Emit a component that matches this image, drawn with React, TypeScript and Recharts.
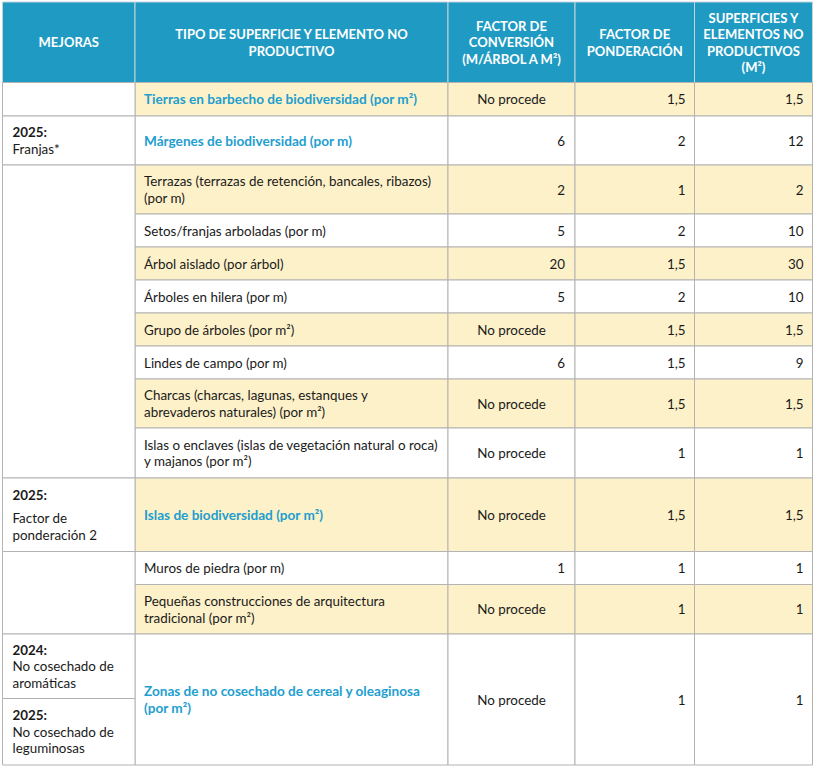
import React from 'react';
import { ComposedChart, XAxis, YAxis, ReferenceArea } from 'recharts';

// ---------- DATA ----------
const headers: string[][] = [
  ['MEJORAS'],
  ['TIPO DE SUPERFICIE Y ELEMENTO NO', 'PRODUCTIVO'],
  ['FACTOR DE', 'CONVERSIÓN', '(M/ÁRBOL A M²)'],
  ['FACTOR DE', 'PONDERACIÓN'],
  ['SUPERFICIES Y', 'ELEMENTOS NO', 'PRODUCTIVOS', '(M²)'],
];

const tipos: string[][] = [
  ['Tierras en barbecho de biodiversidad (por m²)'],
  ['Márgenes de biodiversidad (por m)'],
  ['Terrazas (terrazas de retención, bancales, ribazos)', '(por m)'],
  ['Setos/franjas arboladas (por m)'],
  ['Árbol aislado (por árbol)'],
  ['Árboles en hilera (por m)'],
  ['Grupo de árboles (por m²)'],
  ['Lindes de campo (por m)'],
  ['Charcas (charcas, lagunas, estanques y', 'abrevaderos naturales) (por m²)'],
  ['Islas o enclaves (islas de vegetación natural o roca)', 'y majanos (por m²)'],
  ['Islas de biodiversidad (por m²)'],
  ['Muros de piedra (por m)'],
  ['Pequeñas construcciones de arquitectura', 'tradicional (por m²)'],
  ['Zonas de no cosechado de cereal y oleaginosa', '(por m²)'],
];

const destacados: boolean[] = [true, true, false, false, false, false, false, false, false, false, true, false, false, true];
const sombreados: boolean[] = [true, false, true, false, true, false, true, false, true, false, true, false, true, false];

const factorConversion: string[] = ['No procede', '6', '2', '5', '20', '5', 'No procede', '6', 'No procede', 'No procede', 'No procede', '1', 'No procede', 'No procede'];
const factorPonderacion: string[] = ['1,5', '2', '1', '2', '1,5', '2', '1,5', '1,5', '1,5', '1', '1,5', '1', '1', '1'];
const superficies: string[] = ['1,5', '12', '2', '10', '30', '10', '1,5', '9', '1,5', '1', '1,5', '1', '1', '1'];

type Mejora = { from: number; to: number; year?: string; lines: string[]; part?: 'top' | 'bottom' };
const mejoras: Mejora[] = [
  { from: 0, to: 0, lines: [] },
  { from: 1, to: 1, year: '2025:', lines: ['Franjas*'] },
  { from: 2, to: 9, lines: [] },
  { from: 10, to: 10, year: '2025:', lines: ['Factor de', 'ponderación 2'] },
  { from: 11, to: 12, lines: [] },
  { from: 13, to: 13, year: '2024:', lines: ['No cosechado de', 'aromáticas'], part: 'top' },
  { from: 13, to: 13, year: '2025:', lines: ['No cosechado de', 'leguminosas'], part: 'bottom' },
];

// ---------- LAYOUT ----------
const W = 817;
const H = 777;
const colEdges = [2.5, 135, 448, 575, 694.5, 812.5];
const rowEdges = [2, 82.5, 116, 165, 214, 247, 280, 313, 346, 379, 428, 478, 551.5, 584.5, 634, 765];
const splitLast = 698.5;

const FONT = 'Lato, "Liberation Sans", sans-serif';
const FS = 13.4;
const FS_BOLD = 13.6;
const FS_HEAD = 13;
const LH = 16.5;
const HEADER_BG = '#1f9bc3';
const YELLOW = '#fdf1c9';
const BLUE_TEXT = '#229ecf';
const BORDER = '#b3b3b3';
const TEXT = '#1a1a1a';

type Line = { text: string; bold?: boolean; color?: string; gap?: number; size?: number };
type Align = 'left' | 'center' | 'right';

const makeLabel = (lines: Line[], align: Align, pad = 9) => (props: any) => {
  const vb = props.viewBox || {};
  const { x, y, width, height } = vb;
  if (x == null) return null;
  const total = lines.reduce((s, l) => s + LH + (l.gap || 0), 0);
  let cur = y + height / 2 - total / 2;
  const tx = align === 'left' ? x + pad : align === 'right' ? x + width - pad : x + width / 2;
  const anchor = align === 'left' ? 'start' : align === 'right' ? 'end' : 'middle';
  return (
    <g>
      {lines.map((l, i) => {
        cur += l.gap || 0;
        const ly = cur + LH / 2;
        cur += LH;
        return (
          <text
            key={i}
            x={tx}
            y={ly}
            textAnchor={anchor}
            dominantBaseline="central"
            fontFamily={FONT}
            fontSize={l.size || (l.bold ? FS_BOLD : FS)}
            fontWeight={l.bold ? 700 : 400}
            fill={l.color || TEXT}
          >
            {l.text}
          </text>
        );
      })}
    </g>
  );
};

export default function App() {
  const areas: React.ReactNode[] = [];

  // header
  headers.forEach((h, c) => {
    areas.push(
      <ReferenceArea
        key={`h${c}`}
        x1={colEdges[c]}
        x2={colEdges[c + 1]}
        y1={rowEdges[0]}
        y2={rowEdges[1]}
        fill={HEADER_BG}
        fillOpacity={1}
        stroke="#c4d3d8"
        strokeWidth={1}
        ifOverflow="visible"
        label={makeLabel(h.map((t) => ({ text: t, bold: true, color: '#ffffff', size: FS_HEAD })), 'center')}
      />
    );
  });

  // body rows (cols 2-5)
  tipos.forEach((t, r) => {
    const y1 = rowEdges[r + 1];
    const y2 = rowEdges[r + 2];
    const fill = sombreados[r] ? YELLOW : '#ffffff';
    const cols: { lines: Line[]; align: Align }[] = [
      { lines: t.map((s) => ({ text: s, bold: destacados[r], color: destacados[r] ? BLUE_TEXT : TEXT })), align: 'left' },
      { lines: [{ text: factorConversion[r] }], align: factorConversion[r] === 'No procede' ? 'center' : 'right' },
      { lines: [{ text: factorPonderacion[r] }], align: 'right' },
      { lines: [{ text: superficies[r] }], align: 'right' },
    ];
    cols.forEach((cell, k) => {
      const c = k + 1;
      areas.push(
        <ReferenceArea
          key={`r${r}c${c}`}
          x1={colEdges[c]}
          x2={colEdges[c + 1]}
          y1={y1}
          y2={y2}
          fill={fill}
          fillOpacity={1}
          stroke={BORDER}
          strokeWidth={1}
          ifOverflow="visible"
          label={makeLabel(cell.lines, cell.align, c === 2 && cell.align === 'right' ? 10 : 9)}
        />
      );
    });
  });

  // mejoras column
  mejoras.forEach((m, i) => {
    let y1 = rowEdges[m.from + 1];
    let y2 = rowEdges[m.to + 2];
    if (m.part === 'top') y2 = splitLast;
    if (m.part === 'bottom') y1 = splitLast;
    const lines: Line[] = [];
    if (m.year) lines.push({ text: m.year, bold: true, size: FS });
    m.lines.forEach((l, j) => lines.push({ text: l, gap: j === 0 && m.lines.length > 1 && !m.part ? 7 : 0 }));
    areas.push(
      <ReferenceArea
        key={`m${i}`}
        x1={colEdges[0]}
        x2={colEdges[1]}
        y1={y1}
        y2={y2}
        fill="#ffffff"
        fillOpacity={1}
        stroke={BORDER}
        strokeWidth={1}
        ifOverflow="visible"
        label={makeLabel(lines, 'left', 10)}
      />
    );
  });

  return (
    <div style={{ position: 'absolute', left: 0, top: 0, width: W, height: H, background: '#ffffff' }}>
      <ComposedChart width={W} height={H} data={[]} margin={{ top: 0, right: 0, bottom: 0, left: 0 }}>
        <XAxis type="number" dataKey="x" domain={[0, W]} hide allowDataOverflow />
        <YAxis type="number" dataKey="y" domain={[0, H]} reversed hide allowDataOverflow />
        {areas}
      </ComposedChart>
    </div>
  );
}
